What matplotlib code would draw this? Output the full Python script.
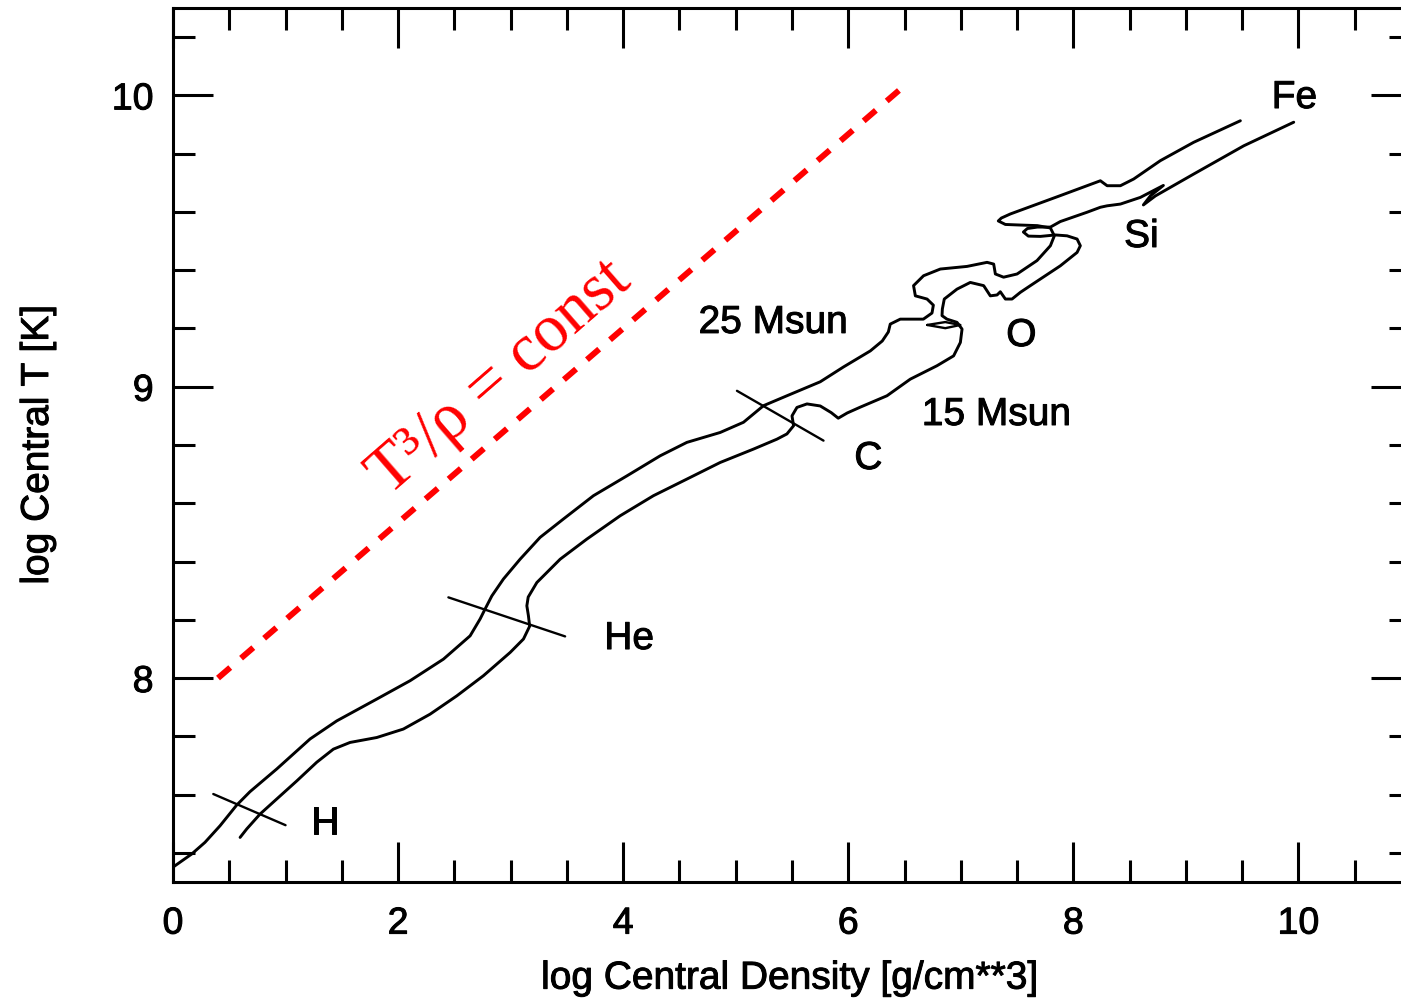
import matplotlib
matplotlib.use("Agg")
import matplotlib.pyplot as plt
import matplotlib.patheffects as pe
from matplotlib.ticker import MultipleLocator

plt.rcParams['font.family'] = ['Liberation Sans', 'DejaVu Sans']

# central density / temperature tracks (log10 values)
rho_25 = [0.000, 0.166, 0.284, 0.418, 0.566, 0.684, 0.922, 1.218, 1.455, 1.811,
          2.107, 2.403, 2.640, 2.729, 2.773, 2.833, 2.936, 3.084, 3.262, 3.469,
          3.736, 4.033, 4.329, 4.566, 4.862, 5.069, 5.247, 5.455, 5.751, 5.958,
          6.196, 6.302, 6.356, 6.373, 6.462, 6.667, 6.744, 6.756, 6.700, 6.596,
          6.580, 6.669, 6.818, 7.055, 7.233, 7.292, 7.307, 7.380, 7.500, 7.677,
          7.796, 7.831, 7.796, 7.680, 7.529, 7.396, 7.333, 7.360, 7.440, 7.884,
          8.240, 8.300, 8.418, 8.536, 8.773, 9.069, 9.484]
T_25 = [7.351, 7.396, 7.436, 7.493, 7.564, 7.610, 7.688, 7.791, 7.853, 7.928,
        7.991, 8.065, 8.145, 8.203, 8.237, 8.282, 8.340, 8.408, 8.483, 8.546,
        8.626, 8.694, 8.763, 8.809, 8.843, 8.878, 8.935, 8.969, 9.017, 9.068,
        9.123, 9.157, 9.188, 9.215, 9.232, 9.232, 9.253, 9.280, 9.301, 9.312,
        9.347, 9.381, 9.404, 9.413, 9.427, 9.421, 9.387, 9.376, 9.387, 9.433,
        9.484, 9.518, 9.545, 9.553, 9.555, 9.557, 9.569, 9.579, 9.593, 9.656,
        9.707, 9.690, 9.690, 9.713, 9.776, 9.839, 9.913]

rho_15 = [0.596, 0.655, 0.773, 0.922, 1.100, 1.277, 1.425, 1.573, 1.811, 2.047,
          2.284, 2.522, 2.758, 2.996, 3.114, 3.169, 3.158, 3.144, 3.156, 3.233,
          3.440, 3.677, 3.973, 4.269, 4.566, 4.862, 5.158, 5.366, 5.455, 5.514,
          5.500, 5.544, 5.633, 5.751, 5.849, 5.911, 5.991, 6.107, 6.344, 6.551,
          6.788, 6.936, 6.996, 7.011, 6.966, 6.877, 6.833, 6.836, 6.853, 6.966,
          7.084, 7.203, 7.262, 7.322, 7.351, 7.396, 7.455, 7.529, 7.618, 7.884,
          8.033, 8.062, 8.033, 7.944, 7.840, 7.707, 7.600, 7.556, 7.591, 7.680,
          7.796, 7.884, 8.122, 8.240, 8.300, 8.418, 8.596, 8.800, 8.684, 8.622,
          8.729, 9.069, 9.514, 9.958]
T_15 = [7.453, 7.482, 7.533, 7.585, 7.647, 7.711, 7.756, 7.779, 7.796, 7.825,
        7.876, 7.939, 8.008, 8.088, 8.134, 8.178, 8.214, 8.248, 8.278, 8.328,
        8.408, 8.477, 8.557, 8.626, 8.683, 8.740, 8.786, 8.820, 8.838, 8.866,
        8.900, 8.929, 8.941, 8.934, 8.911, 8.892, 8.910, 8.930, 8.969, 9.026,
        9.072, 9.106, 9.152, 9.198, 9.221, 9.232, 9.244, 9.267, 9.301, 9.335,
        9.358, 9.347, 9.312, 9.315, 9.326, 9.301, 9.301, 9.324, 9.347, 9.415,
        9.461, 9.484, 9.507, 9.518, 9.521, 9.516, 9.517, 9.531, 9.543, 9.548,
        9.548, 9.567, 9.599, 9.616, 9.621, 9.627, 9.650, 9.691, 9.655, 9.624,
        9.655, 9.730, 9.827, 9.908]

# small loop near oxygen ignition
lens_rho = [6.702, 6.862, 6.996, 6.862, 6.702]
lens_T = [9.212, 9.222, 9.212, 9.201, 9.212]

# burning-stage markers crossing both tracks
stage_rho = [(0.358, 1.000), (2.447, 3.484), (5.011, 5.780)]
stage_T = [(7.602, 7.495), (8.277, 8.143), (8.986, 8.815)]

# label texts and positions
labels = ['H', 'He', 'C', 'O', 'Si', 'Fe', '25 Msun', '15 Msun']
label_rho = [1.351, 4.053, 6.178, 7.538, 8.604, 9.964, 5.333, 7.316]
label_T = [7.499, 8.134, 8.752, 9.174, 9.514, 9.991, 9.219, 8.903]

# T^3/rho = const reference line
const_rho = [0.40, 6.45]
const_T = [8.00, 10.017]

# slightly heavier strokes for the sans-serif text
thick = [pe.withStroke(linewidth=0.7, foreground='black')]

fig = plt.figure(figsize=(14.01, 10.03), dpi=100)
ax = fig.add_axes([173 / 1401, 120 / 1003, 1238 / 1401, 874 / 1003])

line_kw = dict(color='black', solid_joinstyle='round', solid_capstyle='round')
ax.plot(rho_25, T_25, lw=2.1, **line_kw)
ax.plot(rho_15, T_15, lw=2.1, **line_kw)
ax.plot(lens_rho, lens_T, lw=1.7, **line_kw)
for r, t in zip(stage_rho, stage_T):
    ax.plot(r, t, lw=1.7, **line_kw)

ax.plot(const_rho, const_T, color='red', lw=4.3,
        linestyle=(0, (2.7, 2.4)), dash_capstyle='butt')
ax.text(2.907, 9.033, 'T³/ρ = const', color='red', fontsize=48,
        family=['Liberation Serif', 'DejaVu Serif'], rotation=41,
        rotation_mode='anchor', ha='center', va='center')

for s, r, t in zip(labels, label_rho, label_T):
    ax.text(r, t, s, fontsize=28, ha='center', va='center', path_effects=thick)

ax.set_xlim(0, 11)
ax.set_ylim(7.3, 10.3)
ax.set_xticks([0, 2, 4, 6, 8, 10])
ax.set_yticks([8, 9, 10])
ax.xaxis.set_minor_locator(MultipleLocator(0.5))
ax.yaxis.set_minor_locator(MultipleLocator(0.2))
ax.tick_params(which='both', direction='in', top=True, right=True, width=2.2)
ax.tick_params(which='major', length=29, labelsize=27)
ax.tick_params(which='minor', length=16)
ax.tick_params(axis='x', pad=17)
ax.tick_params(axis='y', pad=14)
for sp in ax.spines.values():
    sp.set_linewidth(2.2)
for lab in ax.get_xticklabels() + ax.get_yticklabels():
    lab.set_path_effects(thick)

ax.set_xlabel('log Central Density [g/cm**3]', fontsize=28, path_effects=thick)
ax.set_ylabel('log Central T [K]', fontsize=28, path_effects=thick)
ax.xaxis.set_label_coords(0.498, -0.09)
ax.yaxis.set_label_coords(-0.0945, 0.5)

fig.savefig('out.png', dpi=100)
